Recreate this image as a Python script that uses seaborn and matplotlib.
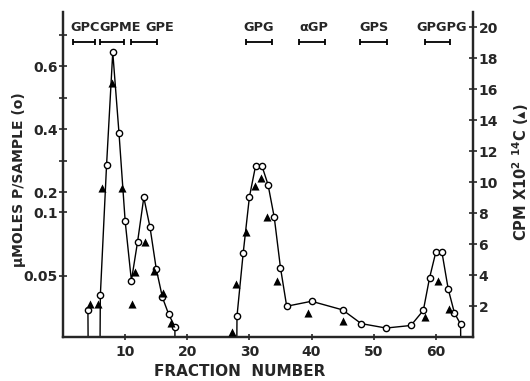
import numpy as np
import pandas as pd
import matplotlib
matplotlib.use("Agg")
import matplotlib.pyplot as plt
import seaborn as sns
from matplotlib.ticker import FixedLocator, FixedFormatter, NullFormatter

# ---------------- data ----------------
# open circles: phosphate (umoles P / sample), left axis
circle_fraction = [4, 5, 6, 7, 8, 9, 10, 11, 12, 13, 14, 15, 16, 17, 18, 19,
                   27, 28, 29, 30, 31, 32, 33, 34, 35, 36, 40, 45, 48, 52, 56,
                   58, 59, 60, 61, 62, 63, 64, 65]
circle_umol = [0.0343, 0.0, 0.0402, 0.286, 0.644, 0.389, 0.0906, 0.0473, 0.0726,
               0.175, 0.0848, 0.0538, 0.0393, 0.0327, 0.0285, 0.0,
               0.0, 0.0320, 0.0641, 0.1775, 0.285, 0.285, 0.2245, 0.0947, 0.0545,
               0.0357, 0.0377, 0.0343, 0.0295, 0.0281, 0.0289,
               0.0341, 0.0487, 0.0645, 0.0645, 0.0432, 0.0332, 0.0293, 0.0]

# filled triangles: CPM x10^2 14C, right axis
tri_fraction = [4.3, 5.7, 6.3, 7.95, 9.5, 11.1, 11.6, 13.2, 14.6, 16.1, 17.3,
                27.2, 27.8, 29.5, 30.9, 31.9, 32.8, 34.5, 39.4, 45.0,
                58.3, 60.3, 62.1]
tri_cpm = [2.16, 2.16, 9.63, 16.4, 9.63, 2.14, 4.23, 6.12, 4.25, 2.85, 0.9,
           0.31, 3.44, 6.8, 9.75, 10.3, 7.73, 3.6, 1.54, 1.04,
           1.32, 3.62, 1.8]

# standards elution ranges
peak_labels = ["GPC", "GPME", "GPE", "GPG", "\u03b1GP", "GPS", "GPGPG"]
peak_start = [1.6, 6.0, 11.0, 29.5, 38.0, 47.8, 58.2]
peak_end = [5.1, 9.8, 15.2, 33.6, 42.2, 52.1, 62.3]

x_ticks = [10, 20, 30, 40, 50, 60]
left_ticks = [0.05, 0.1, 0.2, 0.4, 0.6]
left_tick_labels = ["0.05", "0.1", "0.2", "0.4", "0.6"]
left_minor = [0.3, 0.5, 0.7]
right_ticks = [2, 4, 6, 8, 10, 12, 14, 16, 18, 20]

# layout (not data)
label_x = [3.5, 9.2, 15.6, 31.5, 40.3, 50.0, 60.9]

# ------------- left-axis scale (as printed: log below 0.1, linear above) ----
def fwd(u):
    u = np.asarray(u, dtype=float)
    with np.errstate(all="ignore"):
        uc = np.clip(u, 1e-6, None)
        low = 3.97 + 13.55 * np.log10(uc / 0.05)
        high = np.interp(uc, [0.1, 0.2, 1.0], [8.05, 9.34, 25.66])
    return np.where(uc <= 0.1, low, high)


def inv(d):
    d = np.asarray(d, dtype=float)
    with np.errstate(all="ignore"):
        low = 0.05 * 10 ** ((np.clip(d, -200, 200) - 3.97) / 13.55)
        high = np.interp(d, [8.05, 9.34, 25.66], [0.1, 0.2, 1.0])
    return np.where(d <= 8.05, low, high)


# ---------------- plot ----------------
sns.set_style("ticks")
plt.rcParams["font.family"] = ["DejaVu Sans"]
plt.rcParams["font.weight"] = "bold"

fig = plt.figure(figsize=(5.3, 3.81), dpi=100)
ax = fig.add_axes([0.119, 0.1155, 0.7735, 0.853])
ax2 = ax.twinx()

df_c = pd.DataFrame({"fraction": circle_fraction, "umol": circle_umol})
df_t = pd.DataFrame({"fraction": tri_fraction, "cpm": tri_cpm})

sns.lineplot(data=df_c, x="fraction", y="umol", ax=ax, color="black",
             linewidth=1.0, marker="o", markersize=4.5,
             markerfacecolor="white", markeredgecolor="black",
             markeredgewidth=1.0, estimator=None, sort=False)
sns.scatterplot(data=df_t, x="fraction", y="cpm", ax=ax2, marker="^",
                color="black", s=34, linewidth=0, zorder=5)

ax.set_yscale("function", functions=(fwd, inv))
ymax_right = 21.0
ax2.set_ylim(0, ymax_right)
ax.set_ylim(float(inv(0.0)), float(inv(ymax_right)))
ax.set_xlim(0, 66)

ax.yaxis.set_major_locator(FixedLocator(left_ticks))
ax.yaxis.set_major_formatter(FixedFormatter(left_tick_labels))
ax.yaxis.set_minor_locator(FixedLocator(left_minor))
ax.yaxis.set_minor_formatter(NullFormatter())
ax.set_xticks(x_ticks)
ax.set_xticklabels([str(v) for v in x_ticks])
ax2.set_yticks(right_ticks)
ax2.set_yticklabels([str(v) for v in right_ticks])

for a in (ax, ax2):
    a.spines["top"].set_visible(False)
    for s in a.spines.values():
        s.set_linewidth(1.6)
    a.tick_params(axis="both", which="both", direction="inout", length=6,
                  width=1.2, labelsize=10, pad=1)
ax.tick_params(axis="y", which="minor", length=6)
ax.tick_params(axis="x", length=5, pad=3)

ax.set_xlabel("")
ax.set_ylabel("")
ax2.set_xlabel("")
ax2.set_ylabel("")

# elution ranges of standards
for lab, s0, s1, lx in zip(peak_labels, peak_start, peak_end, label_x):
    c = (s0 + s1) / 2
    ax2.errorbar([c], [19.08], xerr=[(s1 - s0) / 2], fmt="none",
                 ecolor="black", elinewidth=1.3, capsize=2.5, capthick=1.3)
    ax2.text(lx, 20.0, lab, ha="center", va="center", fontsize=9.3,
             fontweight="bold")

fig.text(240 / 530, 1 - 372 / 381, "FRACTION  NUMBER", ha="center",
         va="center", fontsize=11, fontweight="bold")
fig.text(19 / 530, 1 - 180 / 381, "\u03bcMOLES P/SAMPLE (o)", rotation=90,
         ha="center", va="center", fontsize=10, fontweight="bold")
fig.text(521 / 530, 1 - 172 / 381,
         r"CPM X10$^{\mathbf{2}}$ $^{\mathbf{14}}$C ($\blacktriangle$)",
         rotation=90, ha="center", va="center", fontsize=10.5,
         fontweight="bold")

fig.savefig("out.png", dpi=100)
